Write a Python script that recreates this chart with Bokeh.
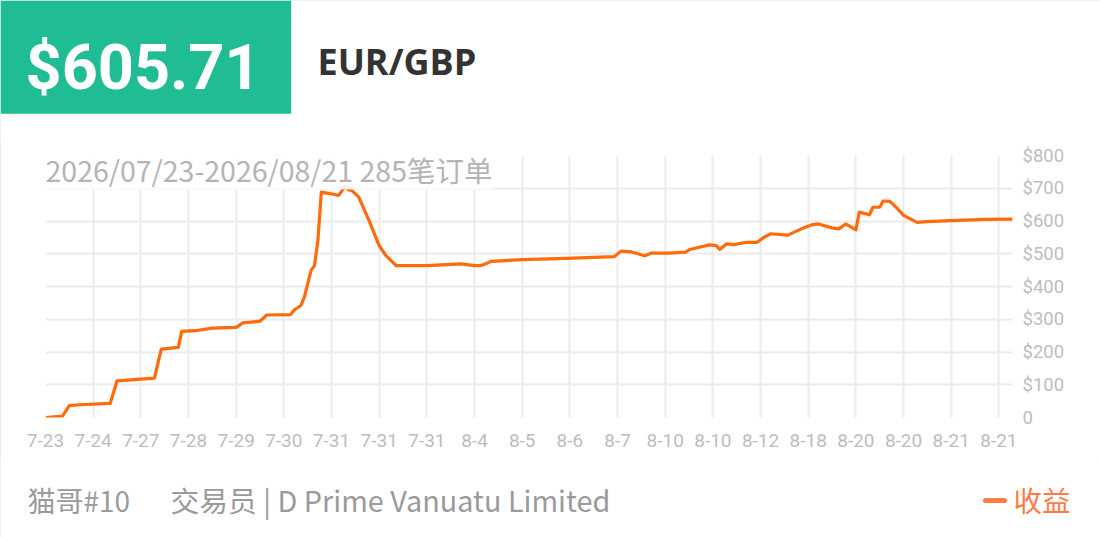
from bokeh.plotting import figure
from bokeh.layouts import column
from bokeh.models import Range1d, FixedTicker, Label
from bokeh.core.properties import value
from bokeh.embed import file_html
from bokeh.resources import INLINE

# ---------------- data ----------------
balance_text = "$605.71"
symbol_text = "EUR/GBP"
subtitle_text = "2026/07/23-2026/08/21 285笔订单"
trader_text = "猫哥#10"
broker_text = "交易员 | D Prime Vanuatu Limited"
legend_text = "收益"

order_idx = [0, 5, 7, 10, 19, 21, 32, 34, 39, 40,
             44, 49, 56, 58, 63, 65, 72, 73, 75, 76,
             78, 79, 80, 81, 84, 86, 87, 88, 89, 90,
             92, 95, 98, 100, 103, 112, 122, 126, 128, 131,
             135, 140, 153, 167, 169, 172, 176, 178, 183, 188,
             189, 192, 195, 197, 198, 200, 202, 206, 209, 211,
             213, 218, 222, 225, 227, 231, 233, 235, 238, 239,
             242, 243, 245, 246, 248, 250, 252, 256, 259, 266,
             276, 284]
profit = [0, 4, 36, 39, 43, 112, 120, 209, 214, 263,
          265, 273, 275, 289, 294, 313, 314, 328, 342, 367,
          449, 464, 540, 688, 683, 678, 691, 706, 695, 693,
          673, 602, 525, 494, 464, 464, 469, 464, 464, 477,
          479, 482, 486, 491, 508, 506, 494, 502, 502, 505,
          512, 520, 527, 525, 513, 530, 528, 535, 535, 550,
          561, 557, 576, 588, 591, 579, 576, 591, 573, 627,
          619, 642, 642, 661, 660, 640, 617, 596, 598, 601,
          605, 605.71]

x_tick_pos = [0, 14, 28, 42, 56, 70, 84, 98, 112, 126, 140,
              154, 168, 182, 196, 210, 224, 238, 252, 266, 280]
x_tick_labels = ["7-23", "7-24", "7-27", "7-28", "7-29", "7-30", "7-31",
                 "7-31", "7-31", "8-4", "8-5", "8-6", "8-7", "8-10",
                 "8-10", "8-12", "8-18", "8-20", "8-20", "8-21", "8-21"]
y_tick_pos = [0, 100, 200, 300, 400, 500, 600, 700, 800]
y_tick_labels = ["0", "$100", "$200", "$300", "$400", "$500", "$600", "$700", "$800"]

# ---------------- styles ----------------
GREEN = "#20bd95"
ORANGE = "#ff6a0a"
ORANGE_LEGEND = "#ff7a45"
GRID = "#ebebeb"
TICK_GRAY = "#bdbdbd"
W = 1100
HDR_H, CHART_H, FTR_H = 140, 320, 77
FRAME_TOP, FRAME_H = 15, 262


def canvas(h, y_top):
    f = figure(width=W, height=h, x_range=Range1d(0, W),
               y_range=Range1d(y_top + h, y_top), toolbar_location=None,
               output_backend="svg", x_axis_type=None, y_axis_type=None,
               min_border=0, outline_line_color=None)
    f.grid.visible = False
    f.background_fill_color = "white"
    f.border_fill_color = "white"
    return f


# ---------------- header ----------------
hdr = canvas(HDR_H, 0)
hdr.quad(left=[0], right=[290.7], top=[0], bottom=[113.3],
         fill_color=GREEN, line_color=None)
hdr.text(x=[25], y=[67], text=[balance_text], text_color="white",
         text_font=value("Roboto"), text_font_style="bold",
         text_font_size="63px", text_baseline="middle", text_align="left")
hdr.text(x=[317], y=[61], text=[symbol_text], text_color="#333333",
         text_font=value("Open Sans"), text_font_style="bold",
         text_font_size="36px", text_baseline="middle", text_align="left")

# ---------------- chart ----------------
p = figure(width=W, height=CHART_H, x_range=Range1d(0, 284), y_range=Range1d(0, 800),
           toolbar_location=None, output_backend="svg",
           x_axis_location="below", y_axis_location="right",
           min_border_left=45, min_border_right=88,
           min_border_top=FRAME_TOP, min_border_bottom=CHART_H - FRAME_TOP - FRAME_H,
           outline_line_color=None)
p.background_fill_color = "white"
p.border_fill_color = "white"

p.line(order_idx, profit, line_color=ORANGE, line_width=3.2, line_join="round")

xa = p.xaxis[0]
xa.ticker = FixedTicker(ticks=x_tick_pos)
xa.major_label_overrides = {t: l for t, l in zip(x_tick_pos, x_tick_labels)}
ya = p.yaxis[0]
ya.ticker = FixedTicker(ticks=y_tick_pos)
ya.major_label_overrides = {t: l for t, l in zip(y_tick_pos, y_tick_labels)}
for ax in (xa, ya):
    ax.axis_line_color = None
    ax.major_tick_line_color = None
    ax.minor_tick_line_color = None
    ax.major_tick_out = 0
    ax.major_tick_in = 0
    ax.major_label_text_font = "Roboto"
    ax.major_label_text_color = TICK_GRAY
xa.major_label_text_font_size = "19px"
ya.major_label_text_font_size = "18.5px"
xa.major_label_standoff = 16
ya.major_label_standoff = 10

p.xgrid.grid_line_color = GRID
p.ygrid.grid_line_color = GRID
p.xgrid.grid_line_width = 2
p.ygrid.grid_line_width = 2

px_per_unit = FRAME_H / 800.0
sub = Label(x=0, y=800 - 13.5 / px_per_unit, text=subtitle_text, anchor="center_left",
            text_font="Noto Sans CJK SC", text_font_size="28.5px",
            text_color="#b4b4b4", background_fill_color="white",
            background_fill_alpha=0.85, padding=0)
p.add_layout(sub)

# ---------------- footer ----------------
ftr = canvas(FTR_H, HDR_H + CHART_H)
ftr.text(x=[27], y=[499], text=[trader_text], text_color="#9a9a9a",
         text_font=value("Noto Sans CJK SC"), text_font_size="28px",
         text_baseline="middle", text_align="left")
ftr.text(x=[170], y=[499], text=[broker_text], text_color="#9a9a9a",
         text_font=value("Noto Sans CJK SC"), text_font_size="28.8px",
         text_baseline="middle", text_align="left")
ftr.segment(x0=[985], y0=[500], x1=[1004], y1=[500], line_color=ORANGE_LEGEND,
            line_width=5, line_cap="round")
ftr.text(x=[1013], y=[499], text=[legend_text], text_color=ORANGE_LEGEND,
         text_font=value("Noto Sans CJK SC"), text_font_size="28.5px",
         text_baseline="middle", text_align="left")

for f in (hdr, p, ftr):
    try:
        f.frame_align = False
    except AttributeError:
        pass

layout = column(hdr, p, ftr, spacing=0,
                styles={"outline": "1px solid #e4e4e4", "outline-offset": "-1px"})
open("out.html", "w").write(file_html(layout, INLINE))
